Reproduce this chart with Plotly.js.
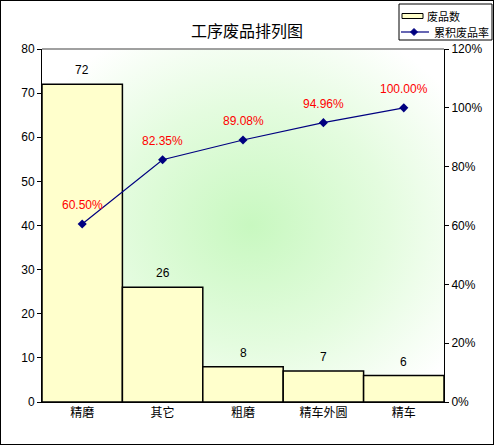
<!DOCTYPE html>
<html><head><meta charset="utf-8">
<script src="https://cdn.plot.ly/plotly-3.0.1.min.js"></script>
<style>
body{margin:0;background:#fff;}
#c{width:492px;height:443px;border:1px solid #000;}
</style></head>
<body><div id="c"></div>
<script>
const categories = ['精磨','其它','粗磨','精车外圆','精车'];
const defects = [72, 26, 8, 7, 6];
const cumRate = [0.6050, 0.8235, 0.8908, 0.9496, 1.0000];
const cumLabels = ['60.50%','82.35%','89.08%','94.96%','100.00%'];
const leftTicks = [0,10,20,30,40,50,60,70,80];
const rightTicks = [0,0.2,0.4,0.6,0.8,1.0,1.2];
const rightTickText = ['0%','20%','40%','60%','80%','100%','120%'];
const seriesNames = ['废品数','累积废品率'];

const cjk = '"Liberation Sans", "Noto Sans CJK SC", sans-serif';
const cjkOnly = '"Noto Sans CJK SC", sans-serif';

// margins / plot box (container is offset 1px by its border)
const M = {l:41, r:49, t:48, b:42};
const W = 492, H = 443;
const PW = W - M.l - M.r, PH = H - M.t - M.b;
// page-pixel -> paper coordinate helpers (legend placement only)
const px = X => (X - 1 - M.l) / PW;
const py = Y => (H - M.b - (Y - 1)) / PH;

const svg = "<svg xmlns='http://www.w3.org/2000/svg' width='200' height='200' preserveAspectRatio='none'>" +
  "<defs><radialGradient id='g' cx='0.52' cy='0.5' r='0.62'>" +
  "<stop offset='0' stop-color='#c8f8c0'/><stop offset='0.55' stop-color='#e4fcdf'/><stop offset='1' stop-color='#ffffff'/>" +
  "</radialGradient></defs><rect width='200' height='200' fill='url(#g)'/></svg>";
const bgImg = 'data:image/svg+xml;charset=utf-8,' + encodeURIComponent(svg);

const barColor = '#ffffcc', lineColor = '#000080';

const traces = [
  {
    type:'bar', name:seriesNames[0], x:categories, y:defects,
    marker:{color:barColor, line:{color:'#000', width:1.5}},
    hoverinfo:'none', showlegend:false
  },
  {
    type:'scatter', mode:'lines+markers', name:seriesNames[1], x:categories, y:cumRate, yaxis:'y2',
    line:{color:lineColor, width:1.2},
    marker:{symbol:'diamond', size:7, color:lineColor},
    hoverinfo:'none', cliponaxis:false, showlegend:false
  }
];

const annotations = [];
categories.forEach((c,i)=>{
  annotations.push({x:c, y:defects[i], xref:'x', yref:'y', text:String(defects[i]),
    showarrow:false, yanchor:'bottom', yshift:5, font:{family:cjk, size:12, color:'#000'}});
  annotations.push({x:c, y:cumRate[i], xref:'x', yref:'y2', text:cumLabels[i],
    showarrow:false, yanchor:'bottom', yshift:10, font:{family:cjk, size:12, color:'#ff0000'}});
});
// legend texts
annotations.push({xref:'paper', yref:'paper', x:px(425), y:py(16), xanchor:'left', yanchor:'middle',
  text:seriesNames[0], showarrow:false, font:{family:cjkOnly, size:11, color:'#000'}});
annotations.push({xref:'paper', yref:'paper', x:px(432), y:py(32), xanchor:'left', yanchor:'middle',
  text:seriesNames[1], showarrow:false, font:{family:cjkOnly, size:11, color:'#000'}});

const dx = 3.5, dcx = 414, dcy = 32;
const diamond = `M ${px(dcx)} ${py(dcy-dx)} L ${px(dcx+dx)} ${py(dcy)} L ${px(dcx)} ${py(dcy+dx)} L ${px(dcx-dx)} ${py(dcy)} Z`;

const shapes = [
  {type:'line', xref:'paper', yref:'paper', x0:0, x1:1, y0:1, y1:1, line:{color:'#808080', width:1.5}},
  // legend box
  {type:'rect', xref:'paper', yref:'paper', x0:px(399), x1:px(492), y0:py(40), y1:py(4),
    fillcolor:'#fff', line:{color:'#000', width:1}},
  {type:'rect', xref:'paper', yref:'paper', x0:px(402), x1:px(423), y0:py(18.5), y1:py(13.5),
    fillcolor:barColor, line:{color:'#000', width:1}},
  {type:'line', xref:'paper', yref:'paper', x0:px(401), x1:px(429), y0:py(32), y1:py(32),
    line:{color:lineColor, width:1.2}},
  {type:'path', xref:'paper', yref:'paper', path:diamond, fillcolor:lineColor, line:{color:lineColor, width:1}}
];

const layout = {
  width:W, height:H,
  margin:Object.assign({autoexpand:false}, M),
  paper_bgcolor:'#fff', plot_bgcolor:'rgba(0,0,0,0)',
  title:{text:'工序废品排列图', font:{family:cjkOnly, size:16, color:'#000'},
    x:0.5, xref:'container', y:1-30/443, yref:'container', yanchor:'middle'},
  bargap:0,
  showlegend:false,
  xaxis:{type:'category', range:[-0.5,4.5], showline:true, linecolor:'#000', linewidth:1,
    ticks:'', showgrid:false, zeroline:false,
    tickfont:{family:cjkOnly, size:12, color:'#000'}},
  yaxis:{range:[0,80], tickvals:leftTicks, showline:true, linecolor:'#000', linewidth:1,
    ticks:'outside', ticklen:4, tickcolor:'#000', showgrid:false, zeroline:false,
    tickfont:{family:cjk, size:12, color:'#000'}},
  yaxis2:{range:[0,1.2], overlaying:'y', side:'right', tickvals:rightTicks, ticktext:rightTickText,
    showline:true, linecolor:'#000', linewidth:1, ticks:'outside', ticklen:4, tickcolor:'#000',
    showgrid:false, zeroline:false, tickfont:{family:cjk, size:12, color:'#000'}},
  images:[{source:bgImg, xref:'paper', yref:'paper', x:0, y:1, sizex:1, sizey:1,
    xanchor:'left', yanchor:'top', sizing:'stretch', layer:'below'}],
  shapes:shapes,
  annotations:annotations
};

Plotly.newPlot('c', traces, layout, {staticPlot:true, displayModeBar:false});
</script></body></html>
